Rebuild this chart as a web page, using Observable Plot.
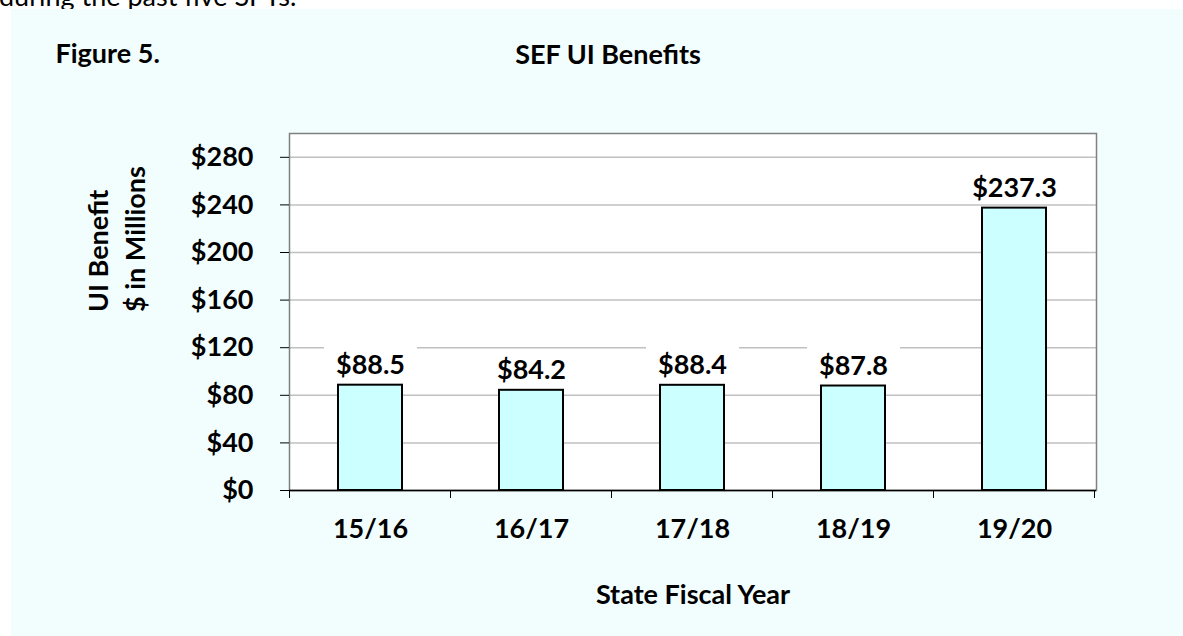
<!DOCTYPE html>
<html>
<head>
<meta charset="utf-8">
<script src="https://cdn.jsdelivr.net/npm/d3@7"></script>
<script src="https://cdn.jsdelivr.net/npm/@observablehq/plot@0.6"></script>
<style>
  html, body { margin: 0; padding: 0; background: #ffffff; }
  #root { position: relative; width: 1183px; height: 636px; overflow: hidden; background: #ffffff; font-family: Lato, sans-serif; }
  #topline { position: absolute; left: 0; top: 0; }
  #panel { position: absolute; left: 11px; top: 9px; width: 1172px; height: 627px; background: #f2fefe; }
</style>
</head>
<body>
<div id="root">
  <svg id="topline" width="1183" height="12"><text x="-1" y="6" font-family="Lato, sans-serif" font-size="27" fill="#000">during the past five SFYs.</text></svg>
  <div id="panel"></div>
</div>
<script>
// ---- data ----
const years = ["15/16", "16/17", "17/18", "18/19", "19/20"];
const benefits = [88.5, 84.2, 88.4, 87.8, 237.3];
const yTicks = [0, 40, 80, 120, 160, 200, 240, 280];
const yDomain = [0, 300];
const figureLabel = "Figure 5.";
const title = "SEF UI Benefits";
const yLabelLines = ["UI Benefit", "$ in Millions"];
const xLabel = "State Fiscal Year";

const data = years.map((year, i) => ({year, value: benefits[i]}));

const FONT = "Lato, sans-serif";
const FS = 27;
const textStyle = {fontSize: FS, fontWeight: "bold", fill: "black"};

// tick marks between categories (Excel-style), positioned from the band scale
function categoryBoundaryTicks(index, scales) {
  const x = scales.x, y = scales.y;
  const step = x(years[1]) - x(years[0]);
  const bw = typeof x.bandwidth === "function" ? x.bandwidth() : step * 0.4;
  const start = x(years[0]) - (step - bw) / 2;
  const y0 = y(yDomain[0]);
  const g = d3.create("svg:g");
  d3.range(years.length + 1).forEach(i => {
    const px = start + i * step;
    g.append("line")
      .attr("x1", px).attr("x2", px)
      .attr("y1", y0).attr("y2", y0 + 8)
      .attr("stroke", "#000").attr("stroke-width", 1);
  });
  return g.node();
}

const chart = Plot.plot({
  width: 1172,
  height: 627,
  marginLeft: 278,
  marginRight: 87,
  marginTop: 124,
  marginBottom: 146,
  style: {background: "transparent", fontFamily: FONT, fontSize: FS + "px", color: "black", overflow: "visible"},
  x: {type: "band", domain: years, paddingInner: 0.6, paddingOuter: 0.3, axis: null},
  y: {domain: yDomain, axis: null},
  marks: [
    Plot.frame({fill: "white", stroke: "none"}),
    Plot.gridY(yTicks, {stroke: "#c0c0c0", strokeOpacity: 1, strokeWidth: 1.5}),
    Plot.frame({stroke: "#808080", strokeWidth: 1.5}),
    Plot.barY(data, {x: "year", y: "value", fill: "#ccffff", stroke: "black", strokeWidth: 2}),
    Plot.ruleY([0], {stroke: "black", strokeWidth: 1.5}),
    Plot.axisY(yTicks, {tickFormat: d => "$" + d, tickSize: 9, tickPadding: 27, label: null, stroke: "black", ...textStyle}),
    Plot.axisX({tickSize: 0, tickPadding: 28, label: null, ...textStyle}),
    categoryBoundaryTicks,
    Plot.text(data, {x: "year", y: "value", text: d => "$" + d.value.toFixed(1), lineAnchor: "bottom", dy: -11, ...textStyle}),
    Plot.text([yLabelLines.join("\n")], {text: d => d, frameAnchor: "left", rotate: -90, dx: -175, lineHeight: 1.38, ...textStyle}),
    Plot.text([xLabel], {text: d => d, frameAnchor: "bottom", lineAnchor: "bottom", dy: 113, ...textStyle}),
    Plot.text([title], {text: d => d, frameAnchor: "top", lineAnchor: "bottom", dx: -85, dy: -70, ...textStyle}),
    Plot.text([figureLabel], {text: d => d, frameAnchor: "top-left", textAnchor: "start", lineAnchor: "bottom", dx: -234, dy: -71, ...textStyle})
  ]
});

document.getElementById("panel").appendChild(chart);

// white boxes behind the data labels (Excel label fill), sized from the rendered text
const labelPattern = /^\$\d+\.\d$/;
chart.querySelectorAll("text").forEach(t => {
  if (!labelPattern.test(t.textContent.trim())) return;
  const b = t.getBBox();
  const r = document.createElementNS("http://www.w3.org/2000/svg", "rect");
  r.setAttribute("x", b.x - 12);
  r.setAttribute("y", b.y - 2);
  r.setAttribute("width", b.width + 24);
  r.setAttribute("height", b.height + 1);
  r.setAttribute("fill", "white");
  const tr = t.getAttribute("transform");
  if (tr) r.setAttribute("transform", tr);
  t.parentNode.insertBefore(r, t);
});
</script>
</body>
</html>
